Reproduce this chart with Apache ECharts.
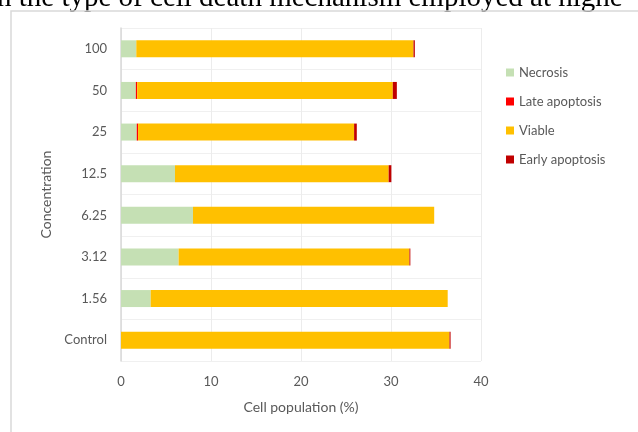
<!DOCTYPE html>
<html>
<head>
<meta charset="utf-8">
<script src="https://cdn.jsdelivr.net/npm/echarts@6/dist/echarts.min.js"></script>
<style>
  html, body { margin: 0; padding: 0; background: #ffffff; }
  #chart { width: 638px; height: 432px; }
</style>
</head>
<body>
<div id="chart"></div>
<script>
// Concentrations, listed bottom to top on the category axis
const concentrations = ['Control', '1.56', '3.12', '6.25', '12.5', '25', '50', '100'];

// Cell population (%) for each death mechanism
const necrosis       = [0,     3.3,  6.4,   8.0,  6.0,   1.75, 1.65, 1.7];
const lateApoptosis  = [0,     0,    0,     0,    0,     0.15, 0.15, 0];
const viable         = [36.5,  33.0, 25.65, 26.8, 23.74, 24.0, 28.4, 30.8];
const earlyApoptosis = [0.12,  0,    0.1,   0,    0.3,   0.3,  0.45, 0.15];

const xTicks = [0, 10, 20, 30, 40];

const labelFont = 'Lato, "Open Sans", sans-serif';
const textGrey = '#595959';

const chart = echarts.init(document.getElementById('chart'), null, { renderer: 'canvas' });

function stackSeries(name, data, color) {
  return {
    name: name,
    type: 'bar',
    stack: 'total',
    data: data,
    barWidth: 17,
    itemStyle: { color: color },
    emphasis: { disabled: true }
  };
}

chart.setOption({
  animation: false,
  backgroundColor: '#ffffff',
  graphic: [
    {
      type: 'text',
      left: -3,
      top: -16,
      style: {
        text: 'n the type of cell death mechanism employed at highe',
        font: '29px "Liberation Serif", "Times New Roman", serif',
        fill: '#000000'
      }
    },
    {
      type: 'polyline',
      shape: { points: [[11, 440], [11, 11], [650, 11]] },
      style: { stroke: '#d9d9d9', lineWidth: 1.5, fill: null }
    }
  ],
  legend: {
    orient: 'vertical',
    left: 501,
    top: 61,
    itemGap: 16,
    itemWidth: 8,
    itemHeight: 8,
    icon: 'rect',
    data: ['Necrosis', 'Late apoptosis', 'Viable', 'Early apoptosis'],
    textStyle: { color: textGrey, fontSize: 13, fontFamily: labelFont }
  },
  grid: { left: 121, right: 157, top: 28, bottom: 71 },
  xAxis: {
    type: 'value',
    min: xTicks[0],
    max: xTicks[xTicks.length - 1],
    interval: 10,
    name: 'Cell population (%)',
    nameLocation: 'middle',
    nameGap: 39,
    nameTextStyle: { color: textGrey, fontSize: 14, fontFamily: labelFont },
    axisLine: { show: false },
    axisTick: { show: false },
    axisLabel: { color: textGrey, fontSize: 13, fontFamily: labelFont, margin: 14 },
    splitLine: { show: true, lineStyle: { color: '#ececec', width: 1 } }
  },
  yAxis: {
    type: 'category',
    data: concentrations,
    name: 'Concentration',
    nameLocation: 'middle',
    nameGap: 68,
    nameTextStyle: { color: textGrey, fontSize: 14, fontFamily: labelFont },
    axisLine: { show: true, lineStyle: { color: '#d9d9d9', width: 1.5 } },
    axisTick: { show: false },
    axisLabel: { color: textGrey, fontSize: 13, fontFamily: labelFont, margin: 14 },
    splitLine: { show: true, lineStyle: { color: '#f0f0f0', width: 1 } }
  },
  series: [
    stackSeries('Necrosis', necrosis, '#c5e0b4'),
    stackSeries('Late apoptosis', lateApoptosis, '#ff0000'),
    stackSeries('Viable', viable, '#ffc000'),
    stackSeries('Early apoptosis', earlyApoptosis, '#c00000')
  ]
});
</script>
</body>
</html>
